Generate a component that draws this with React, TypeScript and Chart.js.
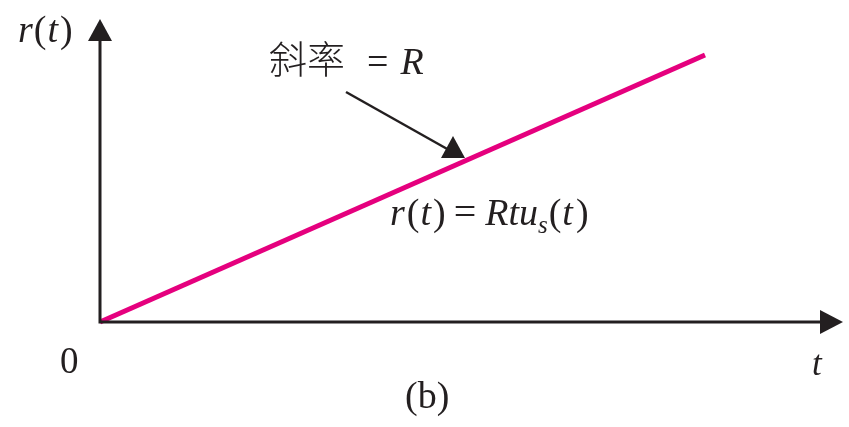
import React, { useEffect, useRef } from "react";
import { Chart, registerables } from "chart.js";

Chart.register(...registerables);

// ramp input r(t) = R t u_s(t), sampled at its two ends
const tValues = [0, 10];
const rValues = [0, 10];

const slopeLabel = "斜率";
const axisLabelY = ["r", "(", "t", ")"];
const axisLabelX = "t";
const originLabel = "0";
const panelLabel = "(b)";

const INK = "#231F20";
const RAMP = "#E5007E";
const SERIF = '"Liberation Serif", "Times New Roman", serif';
const CJK = '"Noto Sans CJK TC", "Noto Sans CJK SC", sans-serif';

type Run = { t: string; italic?: boolean; size?: number; dy?: number; font?: string; gap?: number; weight?: number };

function drawRuns(ctx: CanvasRenderingContext2D, x: number, y: number, size: number, runs: Run[]) {
  let cx = x;
  for (const r of runs) {
    const s = r.size ?? size;
    ctx.font = r.font
      ? `${r.weight ?? 400} ${s}px ${r.font}`
      : `${r.italic ? "italic " : ""}${s}px ${SERIF}`;
    ctx.fillText(r.t, cx, y + (r.dy ?? 0));
    cx += ctx.measureText(r.t).width + (r.gap ?? 0);
  }
}

const diagramPlugin = {
  id: "rampDiagram",
  afterDraw(chart: any) {
    const { ctx, scales } = chart;
    const x0 = scales.x.getPixelForValue(0);
    const y0 = scales.y.getPixelForValue(0);
    const yTop = chart.chartArea.top - 15;
    const xEnd = chart.chartArea.right + 117;

    ctx.save();
    ctx.strokeStyle = INK;
    ctx.fillStyle = INK;
    ctx.lineWidth = 3;
    ctx.lineJoin = "miter";
    ctx.lineCap = "butt";

    // axes
    ctx.beginPath();
    ctx.moveTo(x0, yTop);
    ctx.lineTo(x0, y0);
    ctx.lineTo(xEnd, y0);
    ctx.stroke();

    // arrow heads
    ctx.beginPath();
    ctx.moveTo(x0 - 12, yTop + 1);
    ctx.lineTo(x0 + 12, yTop + 1);
    ctx.lineTo(x0, yTop - 21);
    ctx.closePath();
    ctx.fill();
    ctx.beginPath();
    ctx.moveTo(xEnd - 2, y0 - 12);
    ctx.lineTo(xEnd - 2, y0 + 12);
    ctx.lineTo(xEnd + 21, y0);
    ctx.closePath();
    ctx.fill();

    // slope pointer
    ctx.lineWidth = 2.5;
    ctx.beginPath();
    ctx.moveTo(346, 92);
    ctx.lineTo(449, 150);
    ctx.stroke();
    ctx.beginPath();
    ctx.moveTo(441, 158);
    ctx.lineTo(465, 158);
    ctx.lineTo(453, 136);
    ctx.closePath();
    ctx.fill();

    // text
    ctx.textBaseline = "alphabetic";
    ctx.textAlign = "left";
    drawRuns(ctx, 18, 42, 38, [
      { t: axisLabelY[0], italic: true, gap: 1 },
      { t: axisLabelY[1], gap: 1 },
      { t: axisLabelY[2], italic: true, gap: 2 },
      { t: axisLabelY[3] },
    ]);

    drawRuns(ctx, 269, 73, 38, [{ t: slopeLabel, font: CJK, weight: 300 }]);
    drawRuns(ctx, 367, 74, 38, [{ t: "=", gap: 12 }, { t: "R", italic: true }]);

    drawRuns(ctx, 390, 225, 38, [
      { t: "r", italic: true, gap: 2 },
      { t: "(", gap: 1 },
      { t: "t", italic: true, gap: 2 },
      { t: ")", gap: 8 },
      { t: "=", size: 40, gap: 9 },
      { t: "R", italic: true, gap: 0 },
      { t: "t", italic: true },
      { t: "u", italic: true },
      { t: "s", italic: true, size: 25, dy: 8, gap: 1 },
      { t: "(", gap: 1 },
      { t: "t", italic: true, gap: 3 },
      { t: ")" },
    ]);

    drawRuns(ctx, 60, 373, 37, [{ t: originLabel }]);
    drawRuns(ctx, 812, 375, 35, [{ t: axisLabelX, italic: true }]);
    drawRuns(ctx, 405, 408, 38, [{ t: panelLabel }]);
    ctx.restore();
  },
};

export default function App() {
  const canvasRef = useRef<HTMLCanvasElement | null>(null);

  useEffect(() => {
    document.body.style.margin = "0";
    const canvas = canvasRef.current;
    if (!canvas) return;
    const chart = new Chart(canvas, {
      type: "line",
      data: {
        datasets: [
          {
            data: tValues.map((t, i) => ({ x: t, y: rValues[i] })),
            borderColor: RAMP,
            borderWidth: 5,
            pointRadius: 0,
            tension: 0,
            clip: false as any,
          },
        ],
      },
      options: {
        animation: false,
        responsive: true,
        maintainAspectRatio: false,
        layout: { padding: { left: 100, top: 55, right: 144, bottom: 105 } },
        plugins: { legend: { display: false }, tooltip: { enabled: false } },
        events: [],
        scales: {
          x: { type: "linear", min: 0, max: 10, display: false },
          y: { type: "linear", min: 0, max: 10, display: false },
        },
      },
      plugins: [diagramPlugin],
    });
    return () => chart.destroy();
  }, []);

  return (
    <div style={{ position: "fixed", left: 0, top: 0, width: 849, height: 427, background: "#fff" }}>
      <canvas ref={canvasRef} />
    </div>
  );
}
